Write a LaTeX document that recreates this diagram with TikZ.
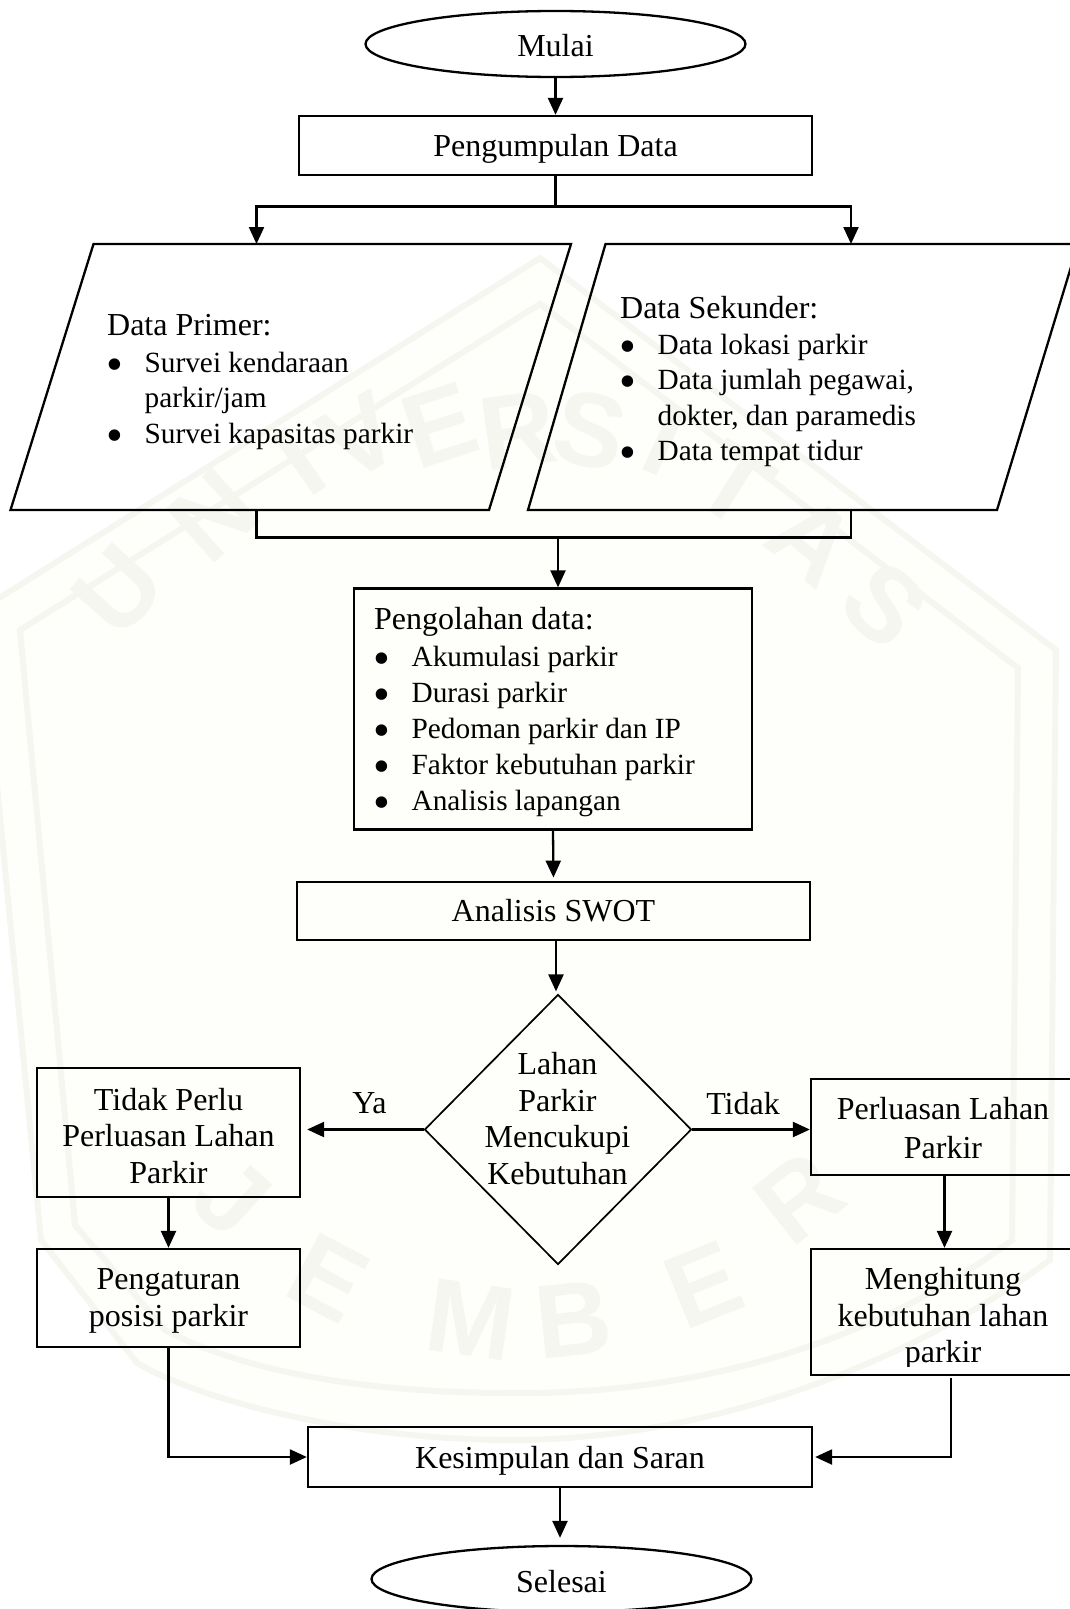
\documentclass[tikz,border=0pt]{standalone}
\usepackage{fontspec}
\setmainfont{Liberation Serif}
\setsansfont{Liberation Sans}
\usetikzlibrary{arrows.meta,shapes.geometric}

\definecolor{wmarkline}{HTML}{F6F6F1}
\definecolor{wmarkfill}{HTML}{FEFEFA}
\newcommand{\itembullet}{\makebox[37.5pt][l]{\hspace{-0.5pt}\raisebox{-8pt}{\fontsize{48}{36}\selectfont\textbullet}}}
\newcommand{\itemgap}{\hspace*{37.5pt}}
\newcommand{\headfont}{\fontsize{32}{36}\selectfont}

\begin{document}
\begin{tikzpicture}[x=1pt,y=-1pt,line width=2.3pt,>={Triangle[length=17pt,width=15pt]},
every node/.style={font=\fontsize{32}{36.6}\selectfont},
wmletter/.style={font=\fontsize{105}{105}\sffamily\bfseries\selectfont,text=wmarkline},
procbox/.style={draw,rectangle,inner sep=0pt,align=center},
oneline/.style={text height=#1,text depth=0pt},
boxlabel/.style={inner sep=0pt,align=center},
terminator/.style={draw,ellipse,inner sep=0pt,minimum width=380pt,minimum height=66pt},
decision/.style={draw,diamond,inner sep=0pt,line width=1.7pt,minimum width=267pt,minimum height=270pt},
listtext/.style={inner sep=0pt,anchor=north west,align=left,font=\fontsize{29.3}{35.3}\selectfont}]

\useasboundingbox (0,0) rectangle (1070,1609);

% watermark
\draw[line width=6pt,draw=wmarkline,fill=wmarkfill] (540,258) -- (1056,650) -- (1050,1260)
  .. controls (900,1370) and (700,1440) .. (512,1440)
  .. controls (350,1440) and (200,1400) .. (137,1363) -- (41,1240) -- (-20,610) -- cycle;
\draw[line width=6pt,draw=wmarkline] (540,304) -- (1018,668) -- (1012,1240)
  .. controls (880,1340) and (700,1395) .. (512,1393)
  .. controls (360,1393) and (240,1370) .. (165,1330) -- (75,1225) -- (20,630) -- cycle;
\foreach \wmname/\wmchar/\wmx/\wmy/\wmrot in {wa/U/118/590/48,wb/N/214/515/42,wc/I/300/462/35,wd/V/360/437/30,
  we/E/440/425/18,wf/R/518/430/8,wg/S/590/430/-12,wh/I/665/440/-25,wi/T/735/485/-32,wj/A/813/540/-40,wk/S/885/605/-44,
  wl/J/232/1198/-42,wm/E/328/1278/-28,wn/M/471/1320/-8,wo/B/573/1320/6,wp/E/703/1285/22,wq/R/799/1198/38}
  \node[wmletter,rotate=\wmrot] (\wmname) at (\wmx,\wmy) {\wmchar};

% start and data collection
\node[terminator,oneline=24pt] (mulai) at (555.5,44) {Mulai};
\node[procbox,oneline=21pt,minimum width=513pt,minimum height=59pt] (kumpul) at (555.5,145.5) {Pengumpulan Data};

% parallelograms
\coordinate (primertop) at (256.5,244);
\coordinate (primerbot) at (256.5,510);
\coordinate (sekundertop) at (851,244);
\coordinate (sekunderbot) at (851,510);
\coordinate (cabang) at (555.5,206.5);
\coordinate (gabung) at (558,537.5);
\draw (93.5,244) -- (571,244) -- (489,510) -- (10.5,510) -- cycle;
\draw (605.5,244) -- (1078,244) -- (997,510) -- (528,510) -- cycle;
\node[listtext] (primer) at (106,313) {{\headfont Data Primer:}\\[2pt]
  \itembullet Survei kendaraan\\
  \itemgap parkir/jam\\
  \itembullet Survei kapasitas parkir};
\node[listtext] (sekunder) at (619,295) {{\headfont Data Sekunder:}\\[1pt]
  \itembullet Data lokasi parkir\\
  \itembullet Data jumlah pegawai,\\
  \itemgap dokter, dan paramedis\\
  \itembullet Data tempat tidur};

\draw[->] (mulai.south) -- (kumpul.north);
\draw[->] (kumpul.south) -- (cabang) -| (primertop);
\draw[->] (cabang) -| (sekundertop);
\draw (primerbot) |- (gabung) -| (sekunderbot);

% processing
\node[procbox,minimum width=398pt,minimum height=241pt] (olah) at (553,709) {};
\node[listtext,font=\fontsize{29.3}{36}\selectfont] (olahtext) at (373,606) {{\headfont Pengolahan data:}\\[1pt]
  \itembullet Akumulasi parkir\\
  \itembullet Durasi parkir\\
  \itembullet Pedoman parkir dan IP\\
  \itembullet Faktor kebutuhan parkir\\
  \itembullet Analisis lapangan};
\node[procbox,oneline=20pt,minimum width=512.5pt,minimum height=58.5pt] (swot) at (553.5,911) {Analisis SWOT};
\node[decision] (cukup) at (558,1129.5) {};
\node[boxlabel] (cukuptext) at (557.5,1118.5) {Lahan\\Parkir\\Mencukupi\\Kebutuhan};

\draw[->] (gabung) -- (gabung |- olah.north);
\draw[->,shorten >=3pt] (olah.south) -- (swot.north);
\draw[->,shorten >=4pt] (swot.south -| cukup.north) ++(-2,0) -- ++(0,54);

% branches
\node[procbox,minimum width=263pt,minimum height=129pt] (tidakperlu) at (168.5,1132.5) {};
\node[boxlabel] (tidakperlutext) at (168.5,1136) {Tidak Perlu\\Perluasan Lahan\\Parkir};
\node[procbox,minimum width=263pt,minimum height=98pt] (atur) at (168.5,1298) {};
\node[boxlabel] (aturtext) at (168.5,1301) {Pengaturan\\posisi parkir};
\node[procbox,minimum width=267pt,minimum height=96pt] (luas) at (944.5,1127) {};
\node[boxlabel] (luastext) at (943,1128) {Perluasan Lahan\\[2pt]Parkir};
\node[procbox,minimum width=267pt,minimum height=126pt] (hitung) at (944.5,1312) {};
\begin{scope}
\clip (hitung.north west) rectangle ([yshift=10pt]hitung.south east);
\node[boxlabel] (hitungtext) at (943,1318.5) {Menghitung\\kebutuhan lahan\\parkir};
\end{scope}
\node[inner sep=0pt] (ya) at (369.5,1103) {Ya};
\node[inner sep=0pt] (tidak) at (743,1104) {Tidak};

\draw[->,shorten >=6pt] (cukup.west) -- (tidakperlu.east |- cukup.west);
\draw[->] (cukup.east) -- (luas.west |- cukup.east);
\draw[->] (tidakperlu.south) -- (atur.north);
\draw[->] (luas.south) -- (hitung.north);

% end
\node[procbox,oneline=22pt,minimum width=504pt,minimum height=60pt] (simpul) at (560,1457) {Kesimpulan dan Saran};
\node[terminator,oneline=26pt] (selesai) at (561.5,1579) {Selesai};
\coordinate (hitungout) at (951,1378);

\draw[->] (atur.south) |- (simpul.west);
\draw[->,shorten >=2pt] (hitungout) |- (simpul.east);
\draw[->,shorten >=7pt] (simpul.south) -- (simpul.south |- selesai.north);
\end{tikzpicture}
\end{document}
